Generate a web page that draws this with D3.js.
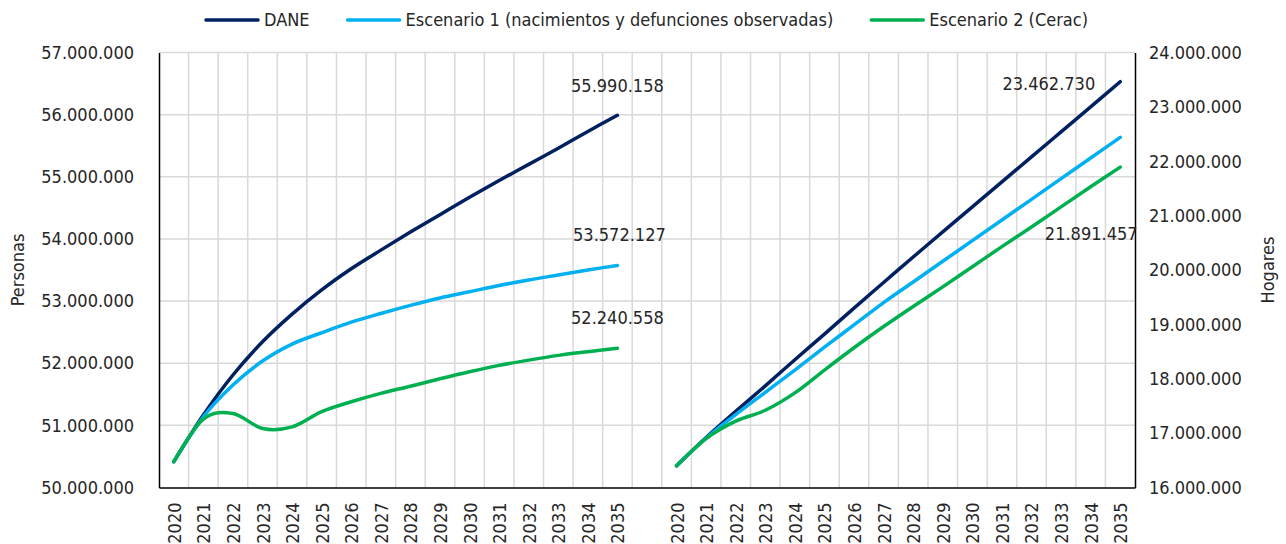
<!DOCTYPE html>
<html>
<head>
<meta charset="utf-8">
<script src="https://cdn.jsdelivr.net/npm/d3@7"></script>
<style>
  html, body { margin: 0; padding: 0; background: #fff; }
  svg text { font-family: 'DejaVu Sans Condensed', 'DejaVu Sans', sans-serif; font-stretch: condensed; fill: #262626; }
</style>
</head>
<body>
<svg id="chart" width="1286" height="544"></svg>
<script>
// tick labels on the category axis (same years for both blocks)
var years = ['2020','2021','2022','2023','2024','2025','2026','2027','2028','2029','2030','2031','2032','2033','2034','2035'];

var seriesNames = ['DANE', 'Escenario 1 (nacimientos y defunciones observadas)', 'Escenario 2 (Cerac)'];
var seriesColors = ['#002060', '#00B0F0', '#00B050'];

// left block: personas (primary axis)
var personasDane = [50415000, 51166000, 51810000, 52345000, 52790000, 53180000, 53520000, 53820000, 54110000, 54390000, 54670000, 54940000, 55200000, 55460000, 55730000, 55990158];
var personasEsc1 = [50415000, 51139000, 51649000, 52035000, 52308000, 52490000, 52660000, 52800000, 52930000, 53050000, 53150000, 53250000, 53340000, 53420000, 53500000, 53572127];
var personasEsc2 = [50415000, 51100000, 51190000, 50950000, 50975000, 51220000, 51380000, 51515000, 51630000, 51750000, 51863000, 51965000, 52050000, 52126000, 52185000, 52240558];

// right block: hogares (secondary axis)
var hogaresDane = [16400000, 16920000, 17400000, 17870000, 18350000, 18820000, 19300000, 19770000, 20240000, 20700000, 21160000, 21620000, 22080000, 22540000, 23000000, 23462730];
var hogaresEsc1 = [16400000, 16910000, 17340000, 17750000, 18160000, 18580000, 18990000, 19400000, 19780000, 20160000, 20540000, 20920000, 21300000, 21680000, 22060000, 22440000];
var hogaresEsc2 = [16400000, 16900000, 17220000, 17420000, 17740000, 18160000, 18570000, 18960000, 19330000, 19690000, 20060000, 20430000, 20790000, 21160000, 21530000, 21891457];

var personasTicks = [50000000, 51000000, 52000000, 53000000, 54000000, 55000000, 56000000, 57000000];
var hogaresTicks = [16000000, 17000000, 18000000, 19000000, 20000000, 21000000, 22000000, 23000000, 24000000];

var FS = 18;
var margin = {left: 159, right: 1135, top: 52.5, bottom: 487.5};

var svg = d3.select('#chart');
var fmt = d3.formatLocale({decimal: ',', thousands: '.', grouping: [3], currency: ['$', '']}).format(',d');

// one band axis: left years, an empty slot, right years
var keys = years.map(function(y){return 'P' + y;})
	.concat(['gap'])
	.concat(years.map(function(y){return 'H' + y;}));

var x = d3.scaleBand().domain(keys).range([margin.left, margin.right]).padding(0);
var xc = function(k){return x(k) + x.bandwidth() / 2;};

var yLeft = d3.scaleLinear().domain([50000000, 57000000]).range([margin.bottom, margin.top]);
var yRight = d3.scaleLinear().domain([16000000, 24000000]).range([margin.bottom, margin.top]);

// gridlines
var grid = svg.append('g').attr('class', 'grid');
grid.selectAll('line.h')
	.data(personasTicks.slice(1))
	.enter().append('line')
	.attr('x1', margin.left).attr('x2', margin.right)
	.attr('y1', function(d){return yLeft(d);}).attr('y2', function(d){return yLeft(d);})
	.attr('stroke', '#D9D9D9').attr('stroke-width', 1.5);
grid.selectAll('line.v')
	.data(keys.slice(1))
	.enter().append('line')
	.attr('x1', function(d){return x(d);}).attr('x2', function(d){return x(d);})
	.attr('y1', margin.top).attr('y2', margin.bottom)
	.attr('stroke', '#D9D9D9').attr('stroke-width', 1.5);

// axes
var leftAxis = d3.axisLeft(yLeft).tickValues(personasTicks).tickSize(0).tickPadding(25).tickFormat(fmt);
var rightAxis = d3.axisRight(yRight).tickValues(hogaresTicks).tickSize(0).tickPadding(14).tickFormat(fmt);
var bottomAxis = d3.axisBottom(x).tickSize(0).tickFormat(function(k){return k === 'gap' ? '' : k.slice(1);});

function styleAxis(g) {
	g.select('.domain').attr('stroke', '#000').attr('stroke-width', 1.5);
	g.selectAll('text').attr('font-size', FS).attr('fill', '#262626')
		.attr('font-family', null);
}

svg.append('g').attr('transform', 'translate(' + margin.left + ',0)').call(leftAxis).call(styleAxis);
svg.append('g').attr('transform', 'translate(' + margin.right + ',0)').call(rightAxis).call(styleAxis);
var bx = svg.append('g').attr('transform', 'translate(0,' + margin.bottom + ')').call(bottomAxis).call(styleAxis);
bx.selectAll('.tick text')
	.attr('text-anchor', 'end')
	.attr('dy', null)
	.attr('y', 0)
	.attr('transform', 'translate(7,15) rotate(-90)');

// axis titles
svg.append('text').attr('transform', 'translate(24,270) rotate(-90)')
	.attr('text-anchor', 'middle').attr('font-size', FS).text('Personas');
svg.append('text').attr('transform', 'translate(1274,270) rotate(-90)')
	.attr('text-anchor', 'middle').attr('font-size', FS).text('Hogares');

// lines
var blocks = [
	{prefix: 'P', y: yLeft, series: [personasDane, personasEsc1, personasEsc2]},
	{prefix: 'H', y: yRight, series: [hogaresDane, hogaresEsc1, hogaresEsc2]}
];

blocks.forEach(function(b){
	var line = d3.line()
		.x(function(d, i){return xc(b.prefix + years[i]);})
		.y(function(d){return b.y(d);})
		.curve(d3.curveCatmullRom.alpha(0));
	b.series.forEach(function(s, i){
		svg.append('path')
			.attr('d', line(s))
			.attr('fill', 'none')
			.attr('stroke', seriesColors[i])
			.attr('stroke-width', 3.5)
			.attr('stroke-linecap', 'round');
	});
});

// data labels at 2035 (block, series index, offset)
var labelSpots = [
	{block: 0, s: 0, dx: 0, dy: -30, anchor: 'middle'},
	{block: 0, s: 1, dx: 2, dy: -31, anchor: 'middle'},
	{block: 0, s: 2, dx: 0, dy: -31, anchor: 'middle'},
	{block: 1, s: 0, dx: -25, dy: 2, anchor: 'end'},
	{block: 1, s: 2, dx: -29, dy: 66, anchor: 'middle'}
];
labelSpots.forEach(function(l){
	var b = blocks[l.block];
	var v = b.series[l.s][years.length - 1];
	svg.append('text')
		.attr('x', xc(b.prefix + years[years.length - 1]) + l.dx)
		.attr('y', b.y(v) + l.dy)
		.attr('dy', '0.36em')
		.attr('text-anchor', l.anchor)
		.attr('font-size', FS)
		.text(fmt(v));
});

// legend, centred over the plot
var legend = svg.append('g').attr('class', 'legend');
var items = legend.selectAll('g').data(seriesNames).enter().append('g');
items.append('line')
	.attr('x1', 0).attr('x2', 52).attr('y1', 0).attr('y2', 0)
	.attr('stroke', function(d, i){return seriesColors[i];})
	.attr('stroke-width', 3.5).attr('stroke-linecap', 'round');
items.append('text')
	.attr('x', 58).attr('dy', '0.36em').attr('font-size', FS)
	.text(function(d){return d;});
var gap = 38;
var pos = 0;
var widths = [];
items.each(function(){
	var w = 58 + d3.select(this).select('text').node().getComputedTextLength();
	widths.push(w);
});
var total = d3.sum(widths) + gap * (widths.length - 1);
var start = (margin.left + margin.right) / 2 - total / 2;
items.attr('transform', function(d, i){
	var t = 'translate(' + (start + pos) + ',20)';
	pos += widths[i] + gap;
	return t;
});
</script>
</body>
</html>
